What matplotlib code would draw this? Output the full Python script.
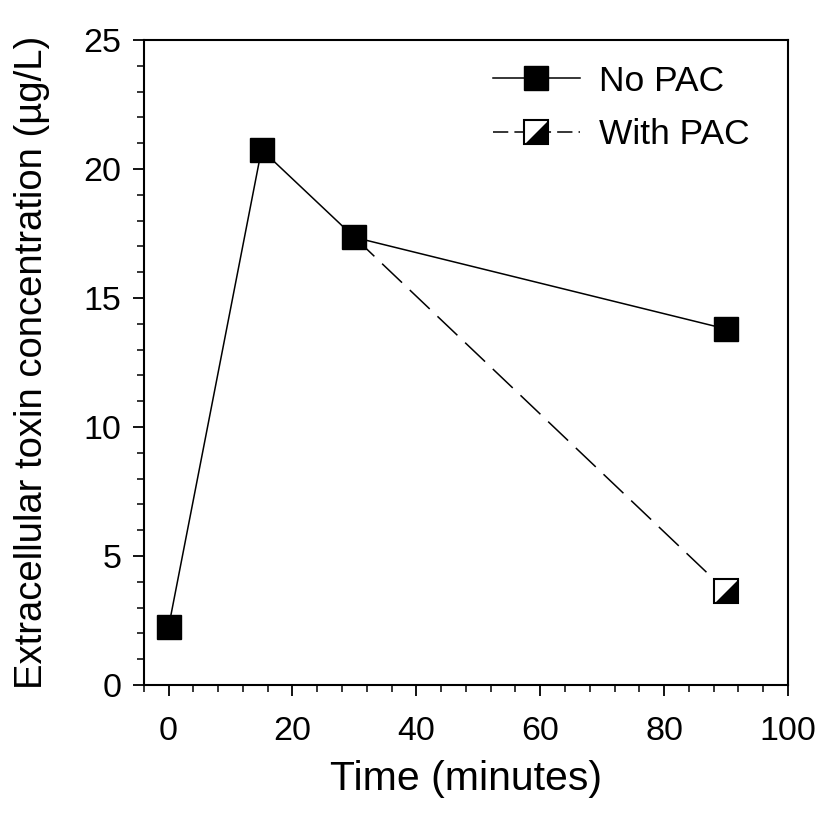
import matplotlib
matplotlib.use("Agg")
import matplotlib.pyplot as plt
from matplotlib.path import Path
from matplotlib.ticker import MultipleLocator
from matplotlib.legend_handler import HandlerTuple
from matplotlib.lines import Line2D

plt.rcParams['font.family'] = ['Liberation Sans', 'DejaVu Sans']

# Extracellular toxin over time
time_no_pac = [0, 15, 30, 90]
toxin_no_pac = [2.25, 20.75, 17.35, 13.8]
time_with_pac = [30, 90]
toxin_with_pac = [17.35, 3.65]

x_label = "Time (minutes)"
y_label = "Extracellular toxin concentration (\u00b5g/L)"
series_labels = ["No PAC", "With PAC"]

# lower-right triangle for the half-filled square marker
half_tri = Path([(-1, -1), (1, -1), (1, 1), (-1, -1)],
                [Path.MOVETO, Path.LINETO, Path.LINETO, Path.CLOSEPOLY])

fig = plt.figure(figsize=(8.22, 8.23), dpi=100)
ax = fig.add_axes([0.175, 0.1677, 0.7836, 0.7837])

ms = 17.5
lw = 1.1
dash = (18, 7)

# With PAC: dashed line, open square with black lower-right half
ax.plot(time_with_pac, toxin_with_pac, color='black', lw=lw,
        dashes=dash, zorder=2)
ax.plot(time_with_pac[1:], toxin_with_pac[1:], ls='none', marker='s',
        ms=ms, mfc='white', mec='black', mew=1.5, zorder=3)
ax.plot(time_with_pac[1:], toxin_with_pac[1:], ls='none', marker=half_tri,
        ms=ms, mfc='black', mec='none', zorder=4)

# No PAC: solid line, filled squares
ax.plot(time_no_pac, toxin_no_pac, color='black', lw=lw, marker='s',
        ms=ms, mfc='black', mec='black', zorder=5)

ax.set_xlim(-4, 100)
ax.set_ylim(0, 25)
ax.xaxis.set_major_locator(MultipleLocator(20))
ax.xaxis.set_minor_locator(MultipleLocator(4))
ax.yaxis.set_major_locator(MultipleLocator(5))
ax.yaxis.set_minor_locator(MultipleLocator(1))

for s in ax.spines.values():
    s.set_linewidth(1.5)
ax.tick_params(which='major', direction='out', length=8, width=1.3,
               labelsize=24.5, pad=8, top=False, right=False)
ax.tick_params(which='minor', direction='out', length=5, width=1.1,
               top=False, right=False)
ax.tick_params(axis='x', which='major', pad=14)

ax.set_xlabel(x_label, fontsize=29.5, labelpad=10)
ax.set_ylabel(y_label, fontsize=27.5, labelpad=24)

# Legend handles
h_no = Line2D([], [], color='black', lw=lw, marker='s', ms=ms,
              mfc='black', mec='black')
h_with_line = Line2D([], [], color='black', lw=lw, dashes=(10, 4))
h_with_box = Line2D([], [], ls='none', marker='s', ms=ms, mfc='white',
                    mec='black', mew=1.5)
h_with_tri = Line2D([], [], ls='none', marker=half_tri, ms=ms,
                    mfc='black', mec='none')
leg = ax.legend([h_no, (h_with_line, h_with_box, h_with_tri)], series_labels,
                handler_map={tuple: HandlerTuple(ndivide=1, pad=0)},
                loc='upper right', bbox_to_anchor=(0.979, 1.0),
                frameon=False, fontsize=25.5, handlelength=2.45,
                handletextpad=0.55, labelspacing=0.57, borderaxespad=0.3)

fig.savefig("out.png", dpi=100)
